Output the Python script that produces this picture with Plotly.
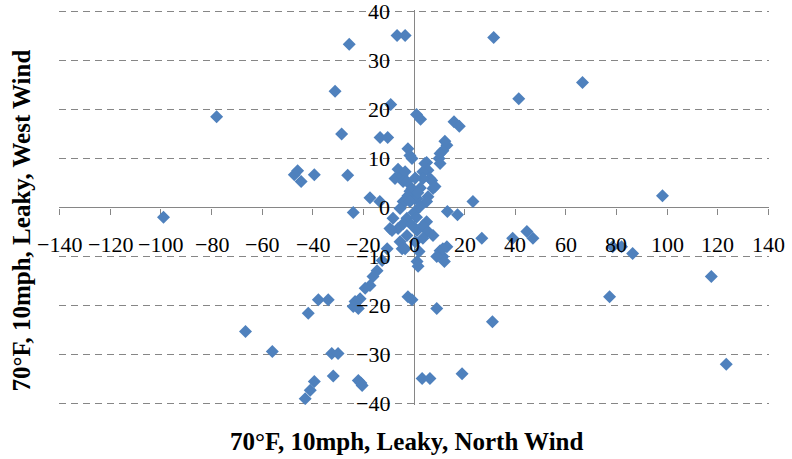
import plotly.graph_objects as go

# Data (x = North Wind, y = West Wind)
north_wind = [
    -99, -78, -47.3, -46, -44.6, -39.4, -25.6, -31.2, -28.6, -26.2,
    -24, -17.4, -13.5, -13.4, -10.4, -9.2, -6.7, -3.5, 31.5, 66.6,
    41.4, 98.2, 23.3, 13.2, 17.2, 1.0, 2.6, 15.8, 17.9, 13,
    12.2, 11.4, 10.3, 9.9, 10.3, -2.4, -1.6, -0.8, 5, 4.3,
    5.5, 3.5, 6.3, 7, 7.5, 8.3, 5.5, 5, -6.3, -7.5,
    -4.7, -3.5, -4.3, -2.8, -0.8, -1.6, -2.4, -4.3, -3.5, 0.4,
    1.2, 2.4, -1.6, -5.5, 3.5, 2.5, 0.5, 1.5, -8.3, -2.8,
    5, -6.3, -8.7, -4.3, -2.8, -5.5, -4.7, -3.5, 1.2, 3.5,
    5.5, 7.5, 3.5, 1.2, 1.6, 0, 1, -1, 0.5, 2,
    10.3, 11.4, 13, 9, 11.4, 12, 26.8, 44.6, 47, 39,
    78.5, 82, 86.4, 117.5, 77.3, 123.4, -9.5, -10.6, -12.6, -14.6,
    -16.2, -17.4, -19.3, -21.3, -23.3, -24, -22, -2.4, -0.8, 9,
    31, -41.8, -37.8, -33.9, -66.6, -56, -32.5, -30, -31.9, -39.4,
    -41, -43, -22, -20.5, -21, 3.2, 6.3, 19,
]
west_wind = [
    -2, 18.5, 6.7, 7.5, 5.3, 6.7, 33.3, 23.7, 15, 6.6,
    -1, 2, 1.2, 14.3, 14.3, 21, 35.1, 35.1, 34.7, 25.5,
    22.2, 2.4, 1.2, -0.8, -1.5, 19, 18, 17.5, 16.6, 12.7,
    13.5, 11.6, 11, 10, 9, 12, 10.6, 10, 9.2, 9,
    7.6, 7.3, 5.9, 5.5, 3.9, 4.3, 2.2, 1.2, 7.8, 5.9,
    6.5, 7.3, 5.3, 5.3, 3.9, 3.3, 2.4, 1.2, 1.2, 1.8,
    1.8, 0.2, 1.2, -0.2, 5.9, 4, 6, 3, -2.2, -2.2,
    -2.9, -4.3, -4.7, -3.3, -5.7, -7, -8.4, -8.4, -4.7, -3.7,
    -4.9, -5.7, -6.3, -11, -12, -1, -2, -3.5, -7, -9,
    -8.8, -10, -8, -10, -8.4, -11, -6.3, -4.9, -6.3, -6.3,
    -8, -8, -9.4, -14.1, -18.2, -32, -4.3, -8.4, -10.8, -12.9,
    -14.1, -15.9, -16.5, -18.6, -19.2, -20.2, -20.6, -18.2, -18.8, -20.6,
    -23.3, -21.6, -18.8, -18.8, -25.3, -29.4, -29.8, -29.8, -34.4, -35.5,
    -37.3, -39, -35.3, -36.3, -35.8, -34.9, -34.9, -33.9,
]

x_ticks = [-140, -120, -100, -80, -60, -40, -20, 0, 20, 40, 60, 80, 100, 120, 140]
y_ticks = [-40, -30, -20, -10, 0, 10, 20, 30, 40]
x_title = "70°F, 10mph, Leaky, North Wind"
y_title = "70°F, 10mph, Leaky, West Wind"

FONT = "Liberation Serif"
GRAY = "#868686"

fig = go.Figure()
fig.add_trace(go.Scatter(
    x=north_wind, y=west_wind, mode="markers",
    marker=dict(symbol="diamond", size=10, color="#4F81BD", line=dict(width=0)),
    hoverinfo="x+y",
))

annotations = []
# x tick labels, drawn below the axis that crosses at y = 0
for v in x_ticks:
    annotations.append(dict(
        text=str(v).replace("-", "\u2212"), x=v, y=0, xref="x", yref="y",
        xanchor="center", yanchor="middle", yshift=-37, showarrow=False,
        font=dict(family=FONT, size=22, color="black")))
# y tick labels, drawn left of the axis that crosses at x = 0
for v in y_ticks:
    annotations.append(dict(
        text=str(v).replace("-", "\u2212"), x=0, y=v, xref="x", yref="y",
        xanchor="right", yanchor="middle", xshift=-22, showarrow=False,
        font=dict(family=FONT, size=22, color="black")))

annotations += [
    dict(text="<b>" + x_title + "</b>", xref="paper", yref="paper",
         x=(406 - 59) / 710, y=0, yshift=-36, xanchor="center", yanchor="middle",
         showarrow=False, font=dict(family=FONT, size=25, color="black")),
    dict(text="<b>" + y_title + "</b>", xref="paper", yref="paper",
         x=(21 - 59) / 710, y=0.5, yshift=-13, textangle=-90,
         xanchor="center", yanchor="middle",
         showarrow=False, font=dict(family=FONT, size=25, color="black")),
]

fig.update_layout(
    width=792, height=459,
    margin=dict(l=59, r=23, t=10, b=54),
    plot_bgcolor="white", paper_bgcolor="white",
    showlegend=False,
    font=dict(family=FONT, size=22, color="black"),
    xaxis=dict(
        range=[-140.3, 140.3], tickvals=x_ticks, showticklabels=False,
        anchor="free", position=0.5, showline=False,
        ticks="outside", ticklen=6, tickcolor=GRAY, tickwidth=1,
        showgrid=False, zeroline=True, zerolinecolor=GRAY, zerolinewidth=1,
        layer="below traces", automargin=False,
    ),
    yaxis=dict(
        range=[-40.3, 40.3], tickvals=y_ticks, showticklabels=False,
        anchor="free", position=0.5, showline=False,
        ticks="outside", ticklen=6, tickcolor=GRAY, tickwidth=1,
        showgrid=True, gridcolor=GRAY, gridwidth=1, griddash="7px,5px",
        zeroline=True, zerolinecolor=GRAY, zerolinewidth=1,
        layer="below traces", automargin=False,
    ),
    annotations=annotations,
)

fig.write_html("out.html")
